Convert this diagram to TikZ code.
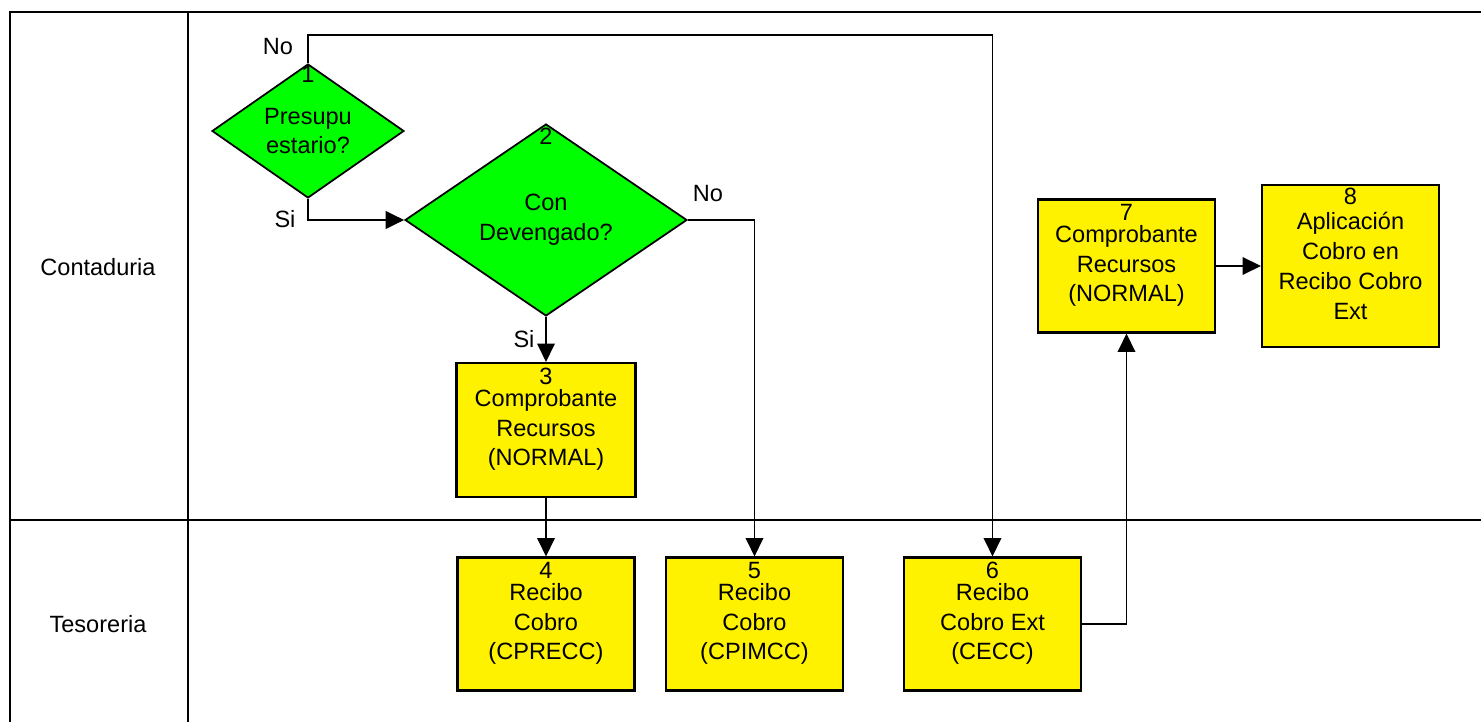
\documentclass[tikz,border=0pt]{standalone}
\usepackage{fontspec}
\setmainfont{Liberation Sans}
\usetikzlibrary{shapes.geometric,arrows.meta}

\tikzset{
    decision/.style={diamond,draw,line width=1pt,fill=green,inner sep=0pt,align=center},
    proc/.style={rectangle,draw,line width=1.2pt,fill=yellow,inner sep=0pt,align=center,
        minimum width=3.54cm,minimum height=2.66cm},
    num/.style={anchor=north,inner sep=3pt},
    flow/.style={line width=1pt,-{Triangle[length=10.5pt,width=10pt]}},
    lane/.style={line width=0.9pt}
}

\begin{document}
\begin{tikzpicture}[x=0.02cm,y=-0.02cm,font=\fontsize{13.4}{17}\selectfont]
        \useasboundingbox (0,0) rectangle (1481,722);
        % carriles
        \draw[lane](10,722)--(10,12)--(1481,12);
        \draw[lane](188,12)--(188,722);
        \draw[lane](10,520)--(1481,520);
        \node (contaduria) at (98,267) {Contaduria};
        \node (tesoreria) at (98,624) {Tesoreria};

        % decisiones
        \node[decision,minimum width=3.84cm,minimum height=2.62cm,label={[num,inner sep=1.5pt]north:1}] (d1) at (308,131) {Presupu\\estario?};
        \node[decision,minimum width=5.64cm,minimum height=3.84cm,label={[num,inner sep=2.5pt]north:2}] (d2) at (546,220) {Con\\Devengado?};

        % procesos
        \node[proc,minimum width=3.58cm,minimum height=2.68cm,label={[num]north:3}] (b3) at (546,430) {Comprobante\\Recursos\\(NORMAL)};
        \node[proc,label={[num]north:4}] (b4) at (546,624) {Recibo\\Cobro\\(CPRECC)};
        \node[proc,label={[num]north:5}] (b5) at (754.5,624) {Recibo\\Cobro\\(CPIMCC)};
        \node[proc,label={[num]north:6}] (b6) at (992.5,624) {Recibo\\Cobro Ext\\(CECC)};
        \node[proc,label={[num]north:7}] (b7) at (1126.5,266) {Comprobante\\Recursos\\(NORMAL)};
        \node[proc,minimum height=3.24cm,label={[num,inner sep=2pt]north:8}] (b8) at (1350.5,266) {Aplicaci\'on\\Cobro en\\Recibo Cobro\\Ext};

        % flechas
        \coordinate (arriba) at (308,35);
        \draw[flow](d1.north)--(arriba)-|(b6.north);
        \draw[flow](d1.south)|-(d2.west);
        \draw[flow](d2.east)-|(b5.north);
        \draw[flow](d2.south)--(b3.north);
        \draw[flow](b3.south)--(b4.north);
        \draw[flow](b6.east)-|(b7.south);
        \draw[flow](b7.east)--(b8.west);
        \node (no1) at (278,47) {No};
        \node (si1) at (285,219) {Si};
        \node (no2) at (708,194) {No};
        \node (si2) at (524,339) {Si};

    \end{tikzpicture}
\end{document}
